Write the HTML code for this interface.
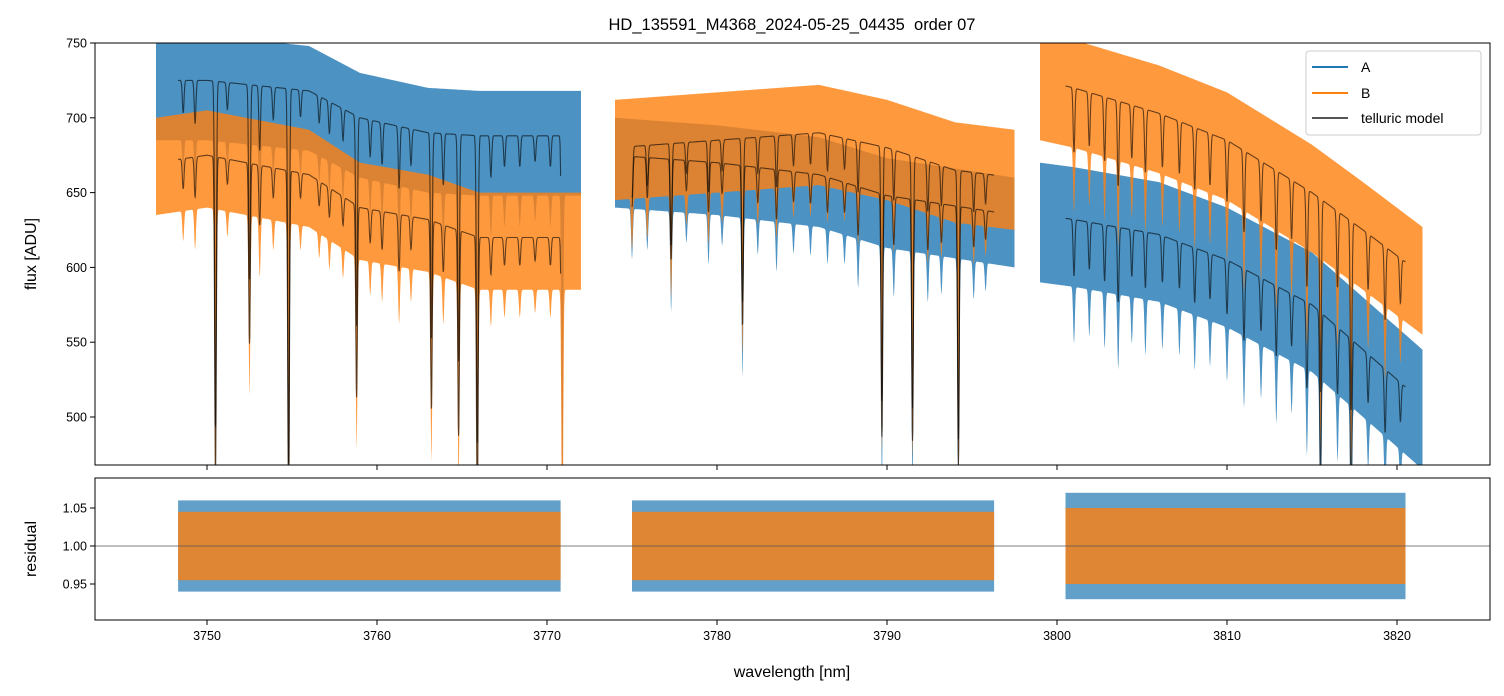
<!DOCTYPE html>
<html><head><meta charset="utf-8"><style>
body{margin:0;background:#fff}
svg{display:block;font-family:"Liberation Sans","DejaVu Sans",sans-serif}
</style></head><body>
<svg id="chart" width="1504" height="696" viewBox="0 0 1504 696">
<defs>
<clipPath id="clipTop"><rect x="95" y="43" width="1395" height="422"/></clipPath>
<clipPath id="clipBot"><rect x="95" y="478" width="1395" height="142"/></clipPath>
</defs>
<text x="792" y="30" text-anchor="middle" font-size="16.5" xml:space="preserve">HD_135591_M4368_2024-05-25_04435  order 07</text>
<g id="topMarks" clip-path="url(#clipTop)"></g>
<g id="botMarks" clip-path="url(#clipBot)"></g>
<rect x="95" y="43" width="1395" height="422" fill="none" stroke="#000" stroke-width="1"/>
<rect x="95" y="478" width="1395" height="142" fill="none" stroke="#000" stroke-width="1"/>
<g id="ticks" font-size="12.5"></g>
<text transform="translate(36,254) rotate(-90)" text-anchor="middle" font-size="16">flux [ADU]</text>
<text transform="translate(36,549) rotate(-90)" text-anchor="middle" font-size="16">residual</text>
<text x="792" y="677" text-anchor="middle" font-size="16">wavelength [nm]</text>
<g>
<rect x="1306" y="51" width="175" height="84" rx="3" fill="#fff" fill-opacity="0.8" stroke="#ccc"/>
<line x1="1312" y1="67" x2="1348" y2="67" stroke="#1f77b4" stroke-width="2"/>
<text x="1361" y="72" font-size="14">A</text>
<line x1="1312" y1="93" x2="1348" y2="93" stroke="#ff7f0e" stroke-width="2"/>
<text x="1361" y="98" font-size="14">B</text>
<line x1="1312" y1="118" x2="1348" y2="118" stroke="#555" stroke-width="2"/>
<text x="1361" y="123" font-size="14">telluric model</text>
</g>
</svg>
<script>
const xTicks=[3750,3760,3770,3780,3790,3800,3810,3820];
const yTicksTop=[500,550,600,650,700,750];
const yTicksBot=[0.95,1.00,1.05];
const dataSegs=[[3747,3772],[3774,3797.5],[3799,3821.5]];
const modelSegs=[[3748.3,3770.8],[3775,3796.3],[3800.5,3820.5]];
const contAw=[3747,3750,3756,3759,3763,3766,3772,3774,3780,3786,3790,3797.5,3799,3801,3806,3810,3815,3821.5];
const contAv=[725,725,718,700,690,688,688,675,670,662,648,635,635,632,622,605,575,510];
const contBw=[3747,3750,3756,3759,3763,3766,3772,3774,3780,3786,3790,3794,3797.5,3799,3801,3806,3810,3815,3818,3821.5];
const contBv=[670,675,662,640,632,620,620,680,685,690,680,665,660,725,720,703,685,650,625,595];
const lineC=[3748.6,3749.3,3750.5,3751.2,3752.5,3753.1,3753.9,3754.8,3755.5,3756.6,3757.2,3758.0,3758.8,3759.6,3760.3,3761.3,3762.0,3763.2,3763.9,3764.8,3765.9,3766.7,3767.5,3768.4,3769.3,3770.2,3770.9,
3775.0,3775.9,3777.3,3778.2,3779.5,3780.3,3781.5,3782.4,3783.5,3784.5,3785.5,3786.5,3787.5,3788.3,3789.7,3790.4,3791.5,3792.4,3793.2,3794.2,3795.1,3795.8,
3801.0,3801.9,3802.8,3803.6,3804.4,3805.2,3806.2,3807.2,3808.1,3809.0,3810.0,3811.0,3812.0,3812.9,3813.8,3814.7,3815.5,3816.5,3817.3,3818.3,3819.3,3820.2];
const lineD=[.03,.04,.32,.025,.18,.06,.03,.35,.025,.025,.03,.03,.2,.035,.04,.06,.035,.2,.05,.22,.3,.04,.03,.03,.025,.03,.3,
.05,.04,.1,.03,.05,.03,.16,.035,.05,.03,.03,.035,.03,.05,.25,.05,.25,.05,.04,.27,.04,.03,
.06,.05,.06,.08,.05,.06,.05,.05,.06,.05,.06,.08,.06,.08,.06,.1,.2,.08,.2,.06,.08,.05];
const spreadUpA=[30,25,35], spreadDnA=[40,35,45];
const spreadUpB=[30,32,32], spreadDnB=[35,35,40];
const resSpreadA=[0.06,0.06,0.07], resSpreadB=[0.045,0.045,0.05];

const X=w=>207+(w-3750)*17;
const YT=v=>43+(750-v)*1.496;
const YB=v=>546-(v-1)*760;
const NS='http://www.w3.org/2000/svg';
function interp(ws,vs,w){if(w<=ws[0])return vs[0];for(let i=1;i<ws.length;i++){if(w<=ws[i]){const t=(w-ws[i-1])/(ws[i]-ws[i-1]);return vs[i-1]+t*(vs[i]-vs[i-1]);}}return vs[vs.length-1];}
function trans(w){let f=1;for(let i=0;i<lineC.length;i++){const d=(w-lineC[i])/0.07;if(Math.abs(d)<4)f*=1-lineD[i]*Math.exp(-d*d);}return f;}
const topG=document.getElementById('topMarks'),botG=document.getElementById('botMarks'),tk=document.getElementById('ticks');
function mk(tag,attrs,parent){const e=document.createElementNS(NS,tag);for(const k in attrs)e.setAttribute(k,attrs[k]);parent.appendChild(e);return e;}
function band(cw,cv,up,dn,color,name){
 dataSegs.forEach((s,si)=>{
  const U=[],L=[];
  for(let w=s[0];w<=s[1]+1e-9;w+=0.02){const c=interp(cw,cv,w);U.push(X(w).toFixed(1)+','+YT(c+up[si]).toFixed(1));L.push(X(w).toFixed(1)+','+YT(c*trans(w)-dn[si]).toFixed(1));}
  const p=mk('polygon',{points:U.concat(L.reverse()).join(' '),fill:color,'fill-opacity':0.8},topG);
  
  
 });
}
function model(cw,cv,name){
 modelSegs.forEach((s,si)=>{
  const P=[];
  for(let w=s[0];w<=s[1]+1e-9;w+=0.015){P.push(X(w).toFixed(1)+','+YT(interp(cw,cv,w)*trans(w)).toFixed(1));}
  const p=mk('polyline',{points:P.join(' '),fill:'none',stroke:'#000','stroke-opacity':0.6,'stroke-width':1.1},topG);
  
  
 });
}
band(contAw,contAv,spreadUpA,spreadDnA,'#1f77b4','spectrum-a');
band(contBw,contBv,spreadUpB,spreadDnB,'#ff7f0e','spectrum-b');
model(contAw,contAv,'telluric-model-a');
model(contBw,contBv,'telluric-model-b');
modelSegs.forEach((s,si)=>{
 [[resSpreadA,'#1f77b4','residual-a',0.7],[resSpreadB,'#ff7f0e','residual-b',0.8]].forEach(([sp,col,nm,op])=>{
  const r=mk('rect',{x:X(s[0]),y:YB(1+sp[si]),width:X(s[1])-X(s[0]),height:YB(1-sp[si])-YB(1+sp[si]),fill:col,'fill-opacity':op},botG);
  
  
 });
});
const ref=mk('line',{x1:95,x2:1490,y1:YB(1),y2:YB(1),stroke:'#555','stroke-width':0.8},botG);


xTicks.forEach(v=>{
 mk('line',{x1:X(v),x2:X(v),y1:465,y2:470,stroke:'#000'},tk);
 mk('line',{x1:X(v),x2:X(v),y1:620,y2:625,stroke:'#000'},tk);
 const t=mk('text',{x:X(v),y:640,'text-anchor':'middle'},tk);t.textContent=v;
 
 
});
yTicksTop.forEach(v=>{
 mk('line',{x1:90,x2:95,y1:YT(v),y2:YT(v),stroke:'#000'},tk);
 const t=mk('text',{x:87,y:YT(v)+4.5,'text-anchor':'end'},tk);t.textContent=v;
 
 
});
yTicksBot.forEach(v=>{
 mk('line',{x1:90,x2:95,y1:YB(v),y2:YB(v),stroke:'#000'},tk);
 const t=mk('text',{x:87,y:YB(v)+4.5,'text-anchor':'end'},tk);t.textContent=v.toFixed(2);
 
 
});
</script>
</body></html>
